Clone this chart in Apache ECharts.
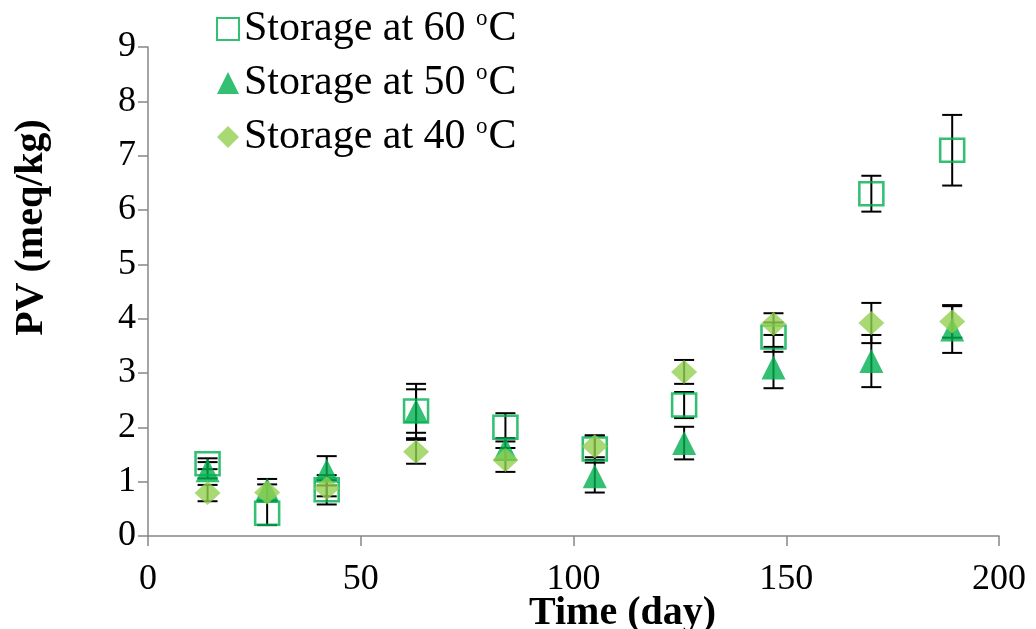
<!DOCTYPE html>
<html>
<head>
<meta charset="utf-8">
<script src="https://cdn.jsdelivr.net/npm/echarts@6/dist/echarts.min.js"></script>
<style>html,body{margin:0;padding:0;background:#fff;}#c{width:1036px;height:629px;}</style>
</head>
<body>
<div id="c"></div>
<script>
const days = [14, 28, 42, 63, 84, 105, 126, 147, 170, 189];
const pv60 = [1.33, 0.42, 0.85, 2.30, 2.00, 1.60, 2.41, 3.66, 6.30, 7.10];
const err60 = [0.10, 0.22, 0.27, 0.40, 0.26, 0.25, 0.24, 0.27, 0.33, 0.65];
const pv50 = [1.21, 0.85, 1.20, 2.30, 1.60, 1.10, 1.71, 3.10, 3.22, 3.80];
const err50 = [0.15, 0.20, 0.27, 0.50, 0.20, 0.30, 0.30, 0.38, 0.48, 0.43];
const pv40 = [0.79, 0.80, 0.88, 1.55, 1.40, 1.65, 3.02, 3.90, 3.92, 3.95];
const err40 = [0.15, 0.15, 0.15, 0.22, 0.22, 0.20, 0.22, 0.20, 0.37, 0.30];
const names = ['Storage at 60 oC', 'Storage at 50 oC', 'Storage at 40 oC'];
const xTicks = [0, 50, 100, 150, 200];
const yTicks = [0, 1, 2, 3, 4, 5, 6, 7, 8, 9];

const serif = '"Liberation Serif", "DejaVu Serif", serif';
const GREEN = '#00B050', LIGHT = '#92D050';

function pts(v) { return days.map((d, i) => [d, v[i]]); }
function errs(v, e) { return days.map((d, i) => [d, v[i] - e[i], v[i] + e[i]]); }

function renderErr(params, api) {
  const x = api.value(0), lo = api.value(1), hi = api.value(2);
  const a = api.coord([x, lo]), b = api.coord([x, hi]);
  const w = 10;
  const st = { stroke: '#000', lineWidth: 2 };
  return {
    type: 'group',
    children: [
      { type: 'line', shape: { x1: a[0], y1: a[1], x2: b[0], y2: b[1] }, style: st },
      { type: 'line', shape: { x1: a[0] - w, y1: a[1], x2: a[0] + w, y2: a[1] }, style: st },
      { type: 'line', shape: { x1: b[0] - w, y1: b[1], x2: b[0] + w, y2: b[1] }, style: st }
    ]
  };
}

function errSeries(v, e, z) {
  return { type: 'custom', renderItem: renderErr, data: errs(v, e), encode: { x: 0, y: [1, 2] }, z: z, silent: true };
}

const chart = echarts.init(document.getElementById('c'));
chart.setOption({
  animation: false,
  backgroundColor: '#fff',
  grid: { left: 148, right: 37, top: 47, bottom: 93, containLabel: false, outerBoundsMode: 'none' },
  legend: {
    orient: 'vertical', left: 211, top: 2, itemGap: 10,
    itemWidth: 22, itemHeight: 22,
    data: names,
    formatter: function (n) { return '{n|' + n.slice(0, -2) + '}{s|o}{n|C}'; },
    textStyle: {
      fontFamily: serif, fontSize: 42, color: '#000', lineHeight: 44,
      rich: {
        n: { fontFamily: serif, fontSize: 42, color: '#000', lineHeight: 44 },
        s: { fontFamily: serif, fontSize: 23, color: '#000', lineHeight: 40, verticalAlign: 'top', padding: [0, 1, 0, 0] }
      }
    }
  },
  xAxis: {
    type: 'value', min: 0, max: 200, interval: 50,
    name: 'Time (day)', nameLocation: 'middle', nameGap: 58, nameMoveOverlap: false,
    nameTextStyle: { fontFamily: serif, fontSize: 40, fontWeight: 'bold', color: '#000', padding: [0, 0, 0, 98] },
    axisLine: { show: true, lineStyle: { color: '#868686', width: 1.5 } },
    axisTick: { show: true, inside: false, length: 10, lineStyle: { color: '#868686', width: 1.5 } },
    axisLabel: { fontFamily: serif, fontSize: 36, color: '#000', margin: 26,
      formatter: v => xTicks.includes(v) ? String(v) : '' },
    splitLine: { show: false }
  },
  yAxis: {
    type: 'value', min: 0, max: 9, interval: 1,
    name: 'PV (meq/kg)', nameLocation: 'middle', nameGap: 96, nameMoveOverlap: false,
    nameTextStyle: { fontFamily: serif, fontSize: 40, fontWeight: 'bold', color: '#000', padding: [0, 0, 0, 128] },
    axisLine: { show: true, lineStyle: { color: '#868686', width: 1.5 } },
    axisTick: { show: true, inside: false, length: 10, lineStyle: { color: '#868686', width: 1.5 } },
    axisLabel: { fontFamily: serif, fontSize: 36, color: '#000', margin: 12,
      formatter: v => yTicks.includes(v) ? String(v) : '' },
    splitLine: { show: false }
  },
  series: [
    errSeries(pv60, err60, 2),
    errSeries(pv50, err50, 2),
    errSeries(pv40, err40, 2),
    { name: names[0], type: 'scatter', data: pts(pv60), symbol: 'rect', symbolSize: [24, 23], z: 3,
      itemStyle: { color: 'rgba(255,255,255,0)', borderColor: GREEN, borderWidth: 2.5 } },
    { name: names[1], type: 'scatter', data: pts(pv50), symbol: 'triangle', symbolSize: [24, 24], z: 4,
      itemStyle: { color: GREEN } },
    { name: names[2], type: 'scatter', data: pts(pv40), symbol: 'diamond', symbolSize: [26, 24], z: 5,
      itemStyle: { color: LIGHT } }
  ]
});
</script>
</body>
</html>
